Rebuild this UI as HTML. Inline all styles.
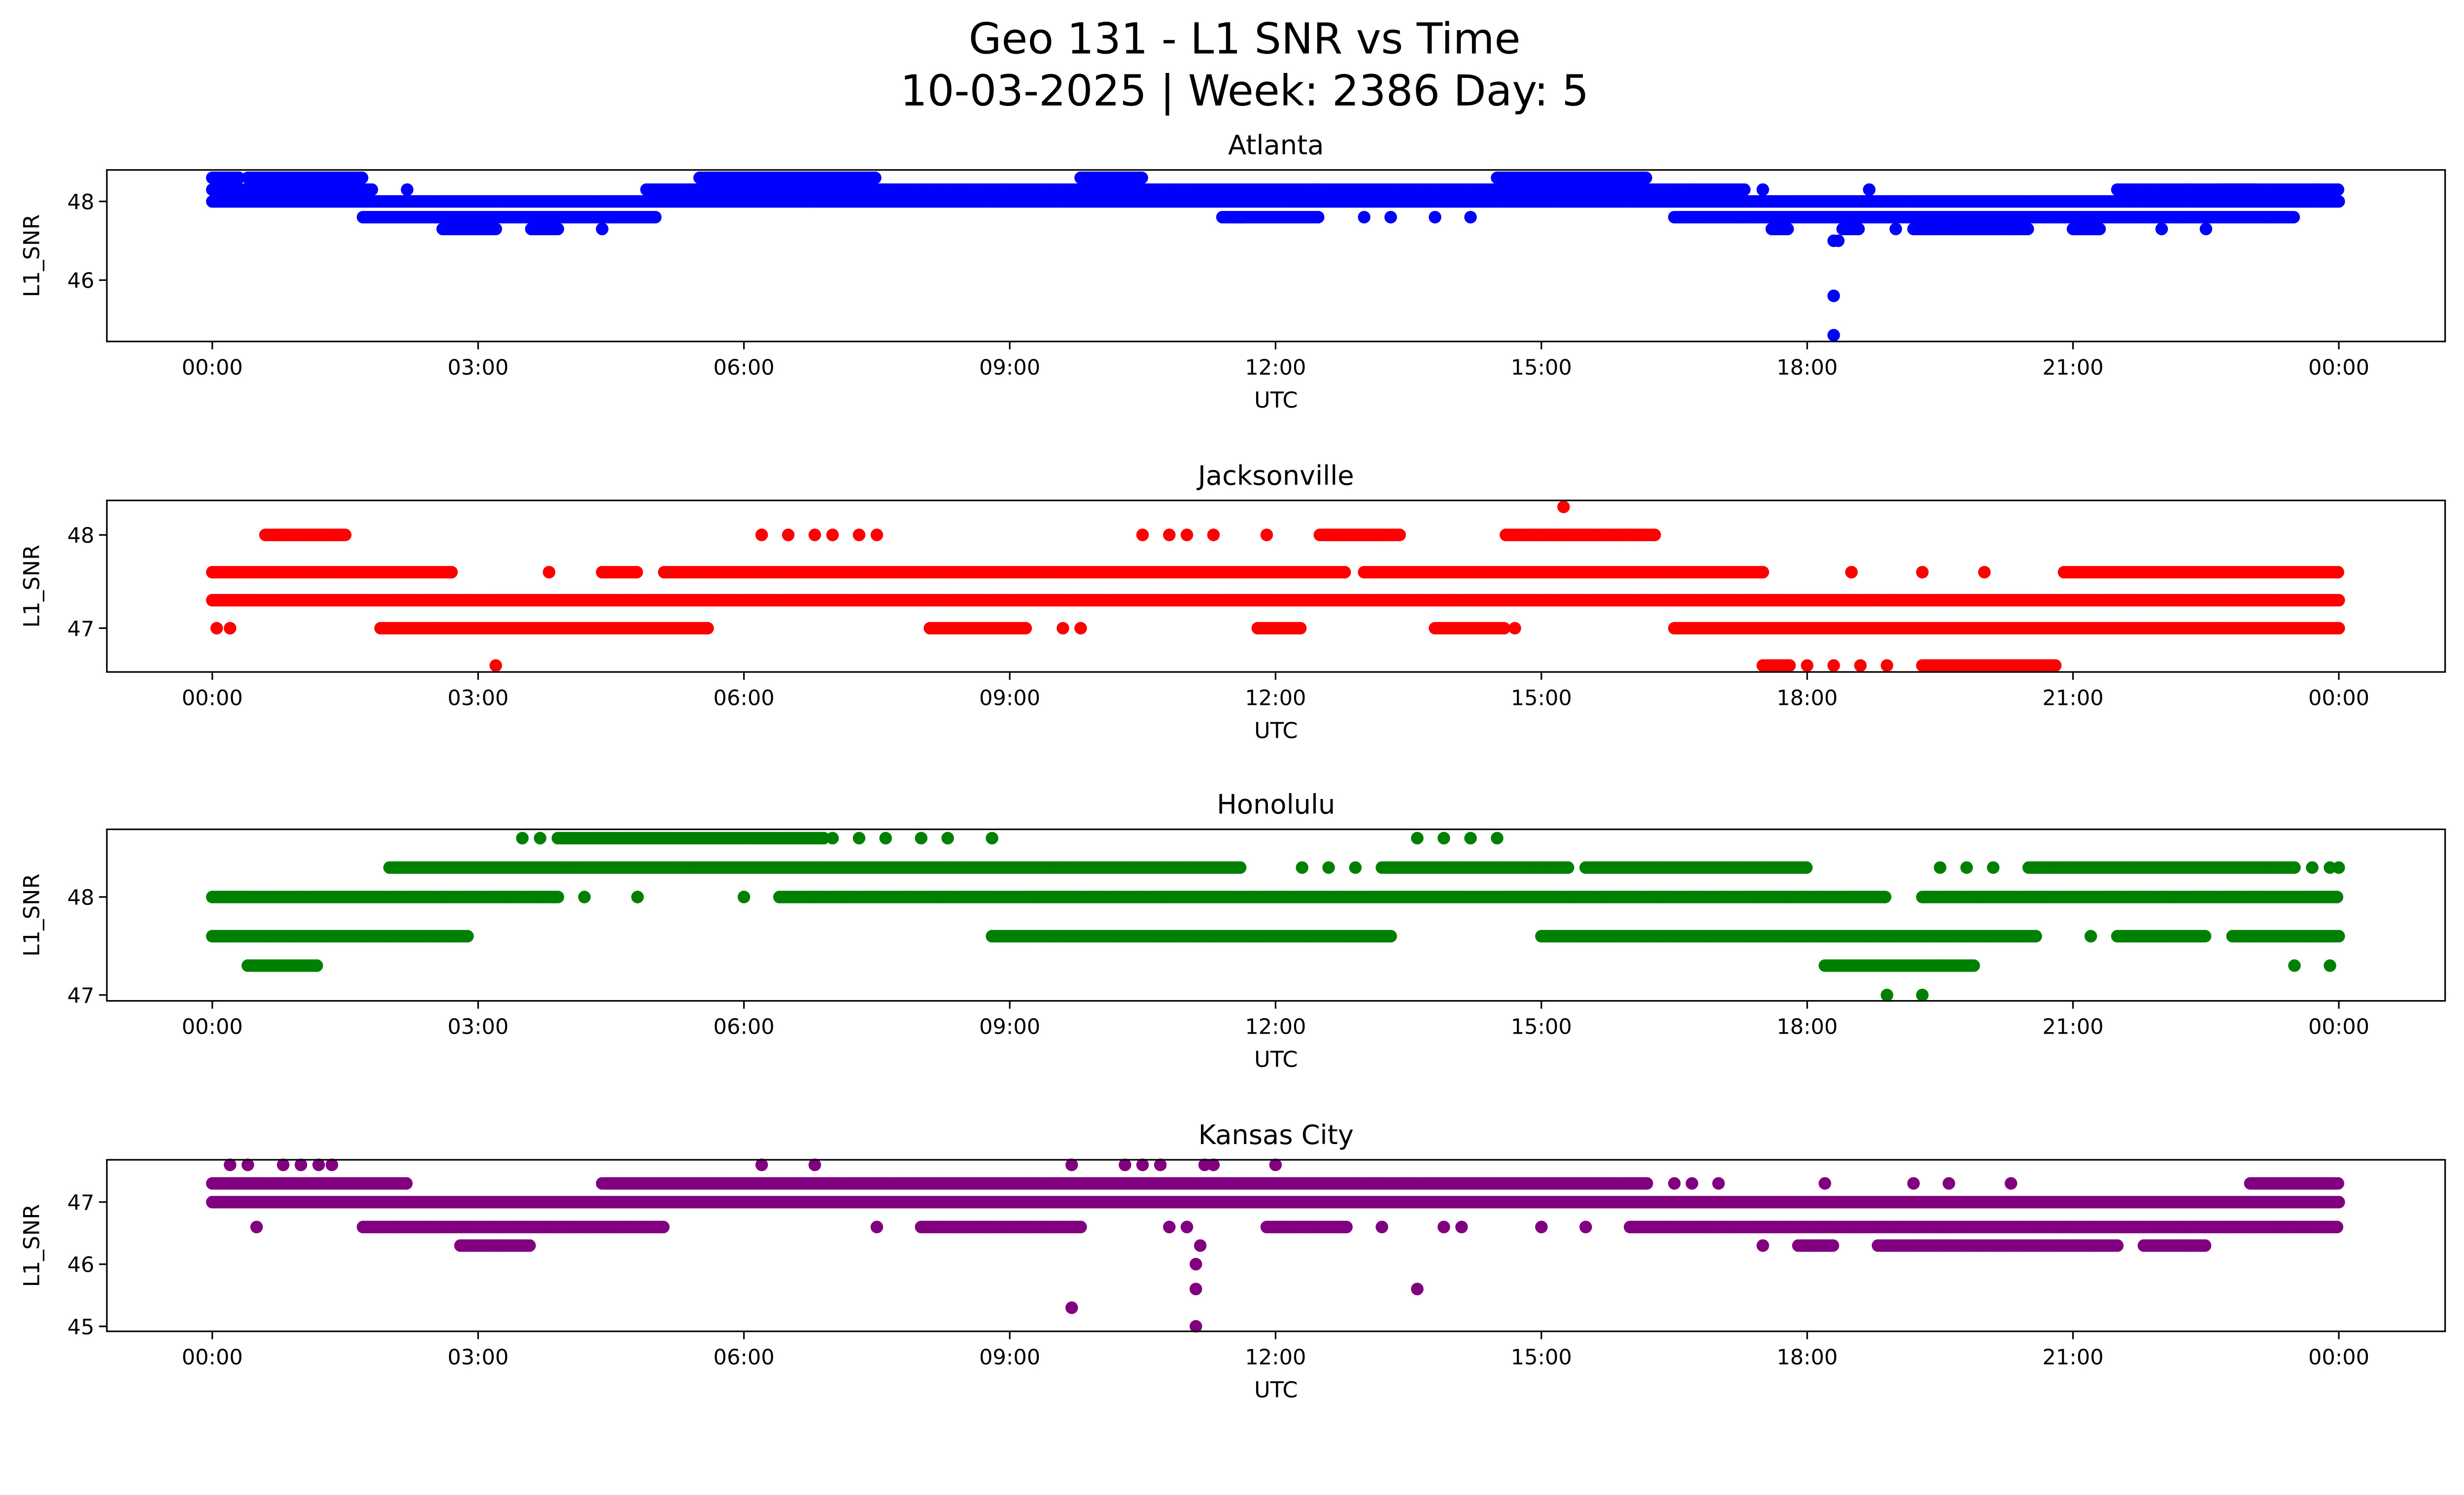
<!DOCTYPE html>
<html><head><meta charset="utf-8">
<style>
html,body{margin:0;padding:0;background:#fff;overflow:hidden;width:100vw;height:100vh;}
svg{display:block;position:fixed;left:0;top:0;width:100vw;height:100vh;}
text{font-family:"DejaVu Sans","Liberation Sans",sans-serif;fill:#000;}
</style></head>
<body>
<svg id="chart" viewBox="0 0 1568 950" preserveAspectRatio="none" xmlns="http://www.w3.org/2000/svg">
<rect width="1568" height="950" fill="#fff"/>
<text x="792" y="34" font-size="27" text-anchor="middle">Geo 131 - L1 SNR vs Time</text>
<text x="792" y="67" font-size="27" text-anchor="middle">10-03-2025 | Week: 2386 Day: 5</text>
</svg>
<script>
// x tick labels (hours)
const xTickHours = [0,3,6,9,12,15,18,21,24];
const xTickLabels = ["00:00","03:00","06:00","09:00","12:00","15:00","18:00","21:00","00:00"];
const stations = ["Atlanta","Jacksonville","Honolulu","Kansas City"];
const colors = ["#0000ff","#ff0000","#008000","#800080"];
const yTicks = [[46,48],[47,48],[47,48],[45,46,47]];
const yLimits = [[44.44,48.8],[46.53,48.37],[46.94,48.69],[44.92,47.68]];

// dense segments: [startHour, endHour, snr]
const atlSegments = [[0,24,48.0],[0,1.8,48.3],[4.9,17.3,48.3],[22.7,24,48.3],[0,0.3,48.6],[0.4,1.7,48.6],[5.5,7.5,48.6],[9.8,10.5,48.6],[14.5,16.2,48.6],
  [1.7,5.0,47.6],[11.4,12.5,47.6],[16.5,23.5,47.6],[2.6,3.2,47.3],[3.6,3.9,47.3],[17.6,17.8,47.3],[18.4,18.6,47.3],[19.2,20.5,47.3],[21.0,21.3,47.3],[21.5,23,48.3]];
const atlPoints = [[2.2,48.3],[4.4,47.3],[11.6,47.6],[13.0,47.6],[13.3,47.6],[13.8,47.6],[14.2,47.6],[18.3,47.0],[18.35,47.0],[18.3,45.6],[18.3,44.6],[17.5,48.3],[18.7,48.3],[19.0,47.3],[22.0,47.3],[22.5,47.3]];
const jaxSegments = [[0,24,47.3],[0,2.7,47.6],[4.4,4.8,47.6],[5.1,12.8,47.6],[13,17.5,47.6],[20.9,24,47.6],
  [1.9,5.6,47.0],[8.1,9.2,47.0],[11.8,12.3,47.0],[13.8,14.6,47.0],[16.5,24,47.0],
  [0.6,1.5,48.0],[12.5,13.4,48.0],[14.6,16.3,48.0],[17.5,17.8,46.6],[19.3,20.8,46.6]];
const jaxPoints = [[0.05,47.0],[0.2,47.0],[3.8,47.6],[6.2,48.0],[6.5,48.0],[6.8,48.0],[7.0,48.0],[7.3,48.0],[7.5,48.0],[9.6,47.0],[9.8,47.0],[10.5,48.0],[10.8,48.0],[11.0,48.0],[11.3,48.0],[11.9,48.0],[14.7,47.0],
  [15.25,48.3],[3.2,46.6],[18.0,46.6],[18.3,46.6],[18.6,46.6],[18.9,46.6],[18.5,47.6],[19.3,47.6],[20.0,47.6]];
const honSegments = [[0,3.9,48.0],[6.4,18.9,48.0],[19.3,24,48.0],[2.0,11.6,48.3],[13.2,15.3,48.3],[15.5,18.0,48.3],[20.5,23.5,48.3],
  [0,2.9,47.6],[8.8,13.3,47.6],[15.0,20.6,47.6],[21.5,22.5,47.6],[22.8,24,47.6],[3.9,6.9,48.6],[18.2,19.9,47.3],[0.4,1.2,47.3]];
const honPoints = [[4.2,48.0],[4.8,48.0],[6.0,48.0],[12.3,48.3],[12.6,48.3],[12.9,48.3],[19.5,48.3],[19.8,48.3],[20.1,48.3],[23.7,48.3],[23.9,48.3],[24,48.3],
  [21.2,47.6],[3.5,48.6],[3.7,48.6],[7.0,48.6],[7.3,48.6],[7.6,48.6],[8.0,48.6],[8.3,48.6],[8.8,48.6],[13.6,48.6],[13.9,48.6],[14.2,48.6],[14.5,48.6],
  [23.5,47.3],[23.9,47.3],[18.9,47.0],[19.3,47.0]];
const kcSegments = [[0,24,47.0],[0,2.2,47.3],[4.4,16.2,47.3],[23,24,47.3],[1.7,5.1,46.6],[8.0,9.8,46.6],[11.9,12.8,46.6],[16.0,24,46.6],
  [2.8,3.6,46.3],[17.9,18.3,46.3],[18.8,21.5,46.3],[21.8,22.5,46.3]];
const kcPoints = [[0.2,47.6],[0.4,47.6],[0.8,47.6],[1.0,47.6],[1.2,47.6],[1.35,47.6],[6.2,47.6],[6.8,47.6],[9.7,47.6],[10.3,47.6],[10.5,47.6],[10.7,47.6],[11.2,47.6],[11.3,47.6],[12.0,47.6],
  [0.5,46.6],[7.5,46.6],[10.8,46.6],[11.0,46.6],[13.2,46.6],[13.9,46.6],[14.1,46.6],[15.0,46.6],[15.5,46.6],[16.5,47.3],[16.7,47.3],[17.0,47.3],[18.2,47.3],[19.2,47.3],[19.6,47.3],[20.3,47.3],
  [17.5,46.3],[11.15,46.3],[11.1,46.0],[11.1,45.6],[13.6,45.6],[9.7,45.3],[11.1,45.0]];
const allSegments = [atlSegments,jaxSegments,honSegments,kcSegments];
const allPoints = [atlPoints,jaxPoints,honPoints,kcPoints];

const NS = "http://www.w3.org/2000/svg";
const svg = document.getElementById("chart");
const X0 = 68, X1 = 1556, T0 = -1.19, T1 = 25.2;
const panelTop = [108,318,527,737], PH = 109;
function xScale(h){ return X0 + (h - T0) / (T1 - T0) * (X1 - X0); }
function mk(tag, attrs){ const e = document.createElementNS(NS, tag); for (const k in attrs) e.setAttribute(k, attrs[k]); return e; }

stations.forEach((name, i) => {
  const top = panelTop[i], bot = top + PH;
  const [lo, hi] = yLimits[i];
  const yScale = v => bot - (v - lo) / (hi - lo) * PH;
  const slug = name.toLowerCase().replace(/ /g, "-");
  const g = mk("g", {});
  
  
  svg.appendChild(g);
  const title = mk("text", {x: (X0 + X1) / 2, y: top - 10, "font-size": 17, "text-anchor": "middle"});
  
  
  title.textContent = name;
  g.appendChild(title);
  const marks = mk("g", {fill: colors[i]});
  
  
  g.appendChild(marks);
  allSegments[i].forEach(s => {
    for (let t = s[0]; t <= s[1] + 1e-9; t += 0.03) {
      const c = mk("circle", {cx: xScale(t).toFixed(1), cy: yScale(s[2]).toFixed(1), r: 4});
      
      
      marks.appendChild(c);
    }
  });
  allPoints[i].forEach(p => {
    const c = mk("circle", {cx: xScale(p[0]).toFixed(1), cy: yScale(p[1]).toFixed(1), r: 4});
    
    
    marks.appendChild(c);
  });
  const frame = mk("rect", {x: X0, y: top, width: X1 - X0, height: PH, fill: "none", stroke: "#000", "stroke-width": 1});
  
  
  g.appendChild(frame);
  xTickHours.forEach((h, k) => {
    const x = xScale(h);
    g.appendChild(mk("line", {x1: x, x2: x, y1: bot, y2: bot + 5, stroke: "#000", "stroke-width": 1}));
    const t = mk("text", {x: x, y: bot + 21, "font-size": 13.5, "text-anchor": "middle"});
    
    
    t.textContent = xTickLabels[k];
    g.appendChild(t);
  });
  yTicks[i].forEach(v => {
    const y = yScale(v);
    g.appendChild(mk("line", {x1: X0 - 5, x2: X0, y1: y, y2: y, stroke: "#000", "stroke-width": 1}));
    const t = mk("text", {x: X0 - 8, y: y + 5, "font-size": 13.5, "text-anchor": "end"});
    
    
    t.textContent = String(v);
    g.appendChild(t);
  });
  const xl = mk("text", {x: (X0 + X1) / 2, y: bot + 42, "font-size": 14, "text-anchor": "middle"});
  
  
  xl.textContent = "UTC";
  g.appendChild(xl);
  const cy = top + PH / 2;
  const yl = mk("text", {x: 25, y: cy, "font-size": 14, "text-anchor": "middle", transform: "rotate(-90 25 " + cy + ")"});
  
  
  yl.textContent = "L1_SNR";
  g.appendChild(yl);
});
</script>
</body></html>
